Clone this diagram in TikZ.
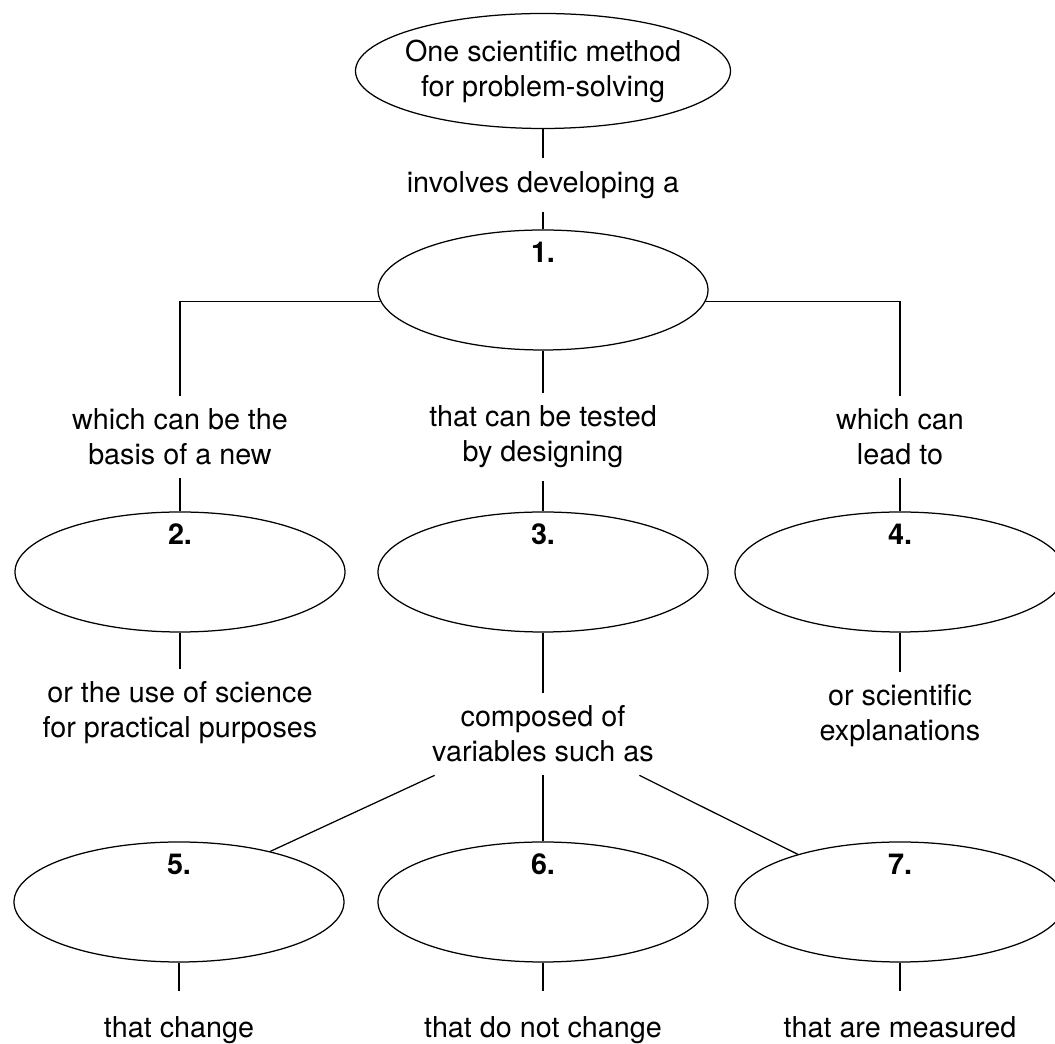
\documentclass[tikz,border=0pt]{standalone}
\usepackage{fontspec}
\setmainfont{TeX Gyre Heros}
\usetikzlibrary{shapes.geometric}

\begin{document}
\begin{tikzpicture}[x=0.4pt, y=-0.4pt, line width=0.5pt,
  font=\fontsize{11.5pt}{14pt}\selectfont,
  ovalo/.style={draw, ellipse, align=center, inner sep=0pt,
    minimum width=132pt, minimum height=48pt},
  texto/.style={align=center, inner sep=5pt},
  pie/.style={texto, inner ysep=10pt, text height=8.3pt, text depth=2.5pt},
  num/.style={label={[anchor=north, inner sep=0pt, yshift=-4.8pt]north:\textbf{#1}}}]

\useasboundingbox (0,0) rectangle (1055,1044);

% --- nodo principal ---
\node[ovalo, minimum width=150pt, minimum height=46pt, inner xsep=-6pt] (e0) at (543,71)
  {One scientific method\\for problem-solving};
\node[texto] (t0) at (543,185) {involves developing a};
\node[ovalo, num=1.] (e1) at (543,290) {};

% --- segundo nivel ---
\node[texto] (t2) at (180,437) {which can be the\\basis of a new};
\node[texto] (t3) at (543,437) {that can be tested\\by designing};
\node[texto] (t4) at (900,437) {which can\\lead to};
\node[ovalo, num=2.] (e2) at (180,572) {};
\node[ovalo, num=3.] (e3) at (543,572) {};
\node[ovalo, num=4.] (e4) at (900,572) {};

% --- tercer nivel ---
\node[texto] (t6) at (180,713) {or the use of science\\for practical purposes};
\node[texto] (t7) at (543,734) {composed of\\variables such as};
\node[texto] (t8) at (900,716) {or scientific\\explanations};
\node[ovalo, num=5.] (e5) at (179,902) {};
\node[ovalo, num=6.] (e6) at (543,902) {};
\node[ovalo, num=7.] (e7) at (900,902) {};
\node[pie] (t9) at (179,1030) {that change};
\node[pie] (t10) at (543,1030) {that do not change};
\node[pie] (t11) at (900,1030) {that are measured};

% --- conectores ---
\draw (e0.south) -- (t0.north);
\draw (t0.south) -- (e1.north);
\draw (e1.184) -| (t2.north);
\draw (e1.south) -- (t3.north);
\draw (e1.356) -| (t4.north);
\draw (t2.south) -- (e2.north);
\draw (t3.south) -- (e3.north);
\draw (t4.south) -- (e4.north);
\draw (e2.south) -- (t6.north);
\draw (e3.south) -- (t7.north);
\draw (e4.south) -- (t8.north);
\draw ([xshift=6.2pt]t7.south west) -- (e5.29);
\draw (t7.south) -- (e6.north);
\draw ([xshift=-11pt]t7.south east) -- (e7.155);
\draw (e5.south) -- (t9.north);
\draw (e6.south) -- (t10.north);
\draw (e7.south) -- (t11.north);

\end{tikzpicture}
\end{document}
